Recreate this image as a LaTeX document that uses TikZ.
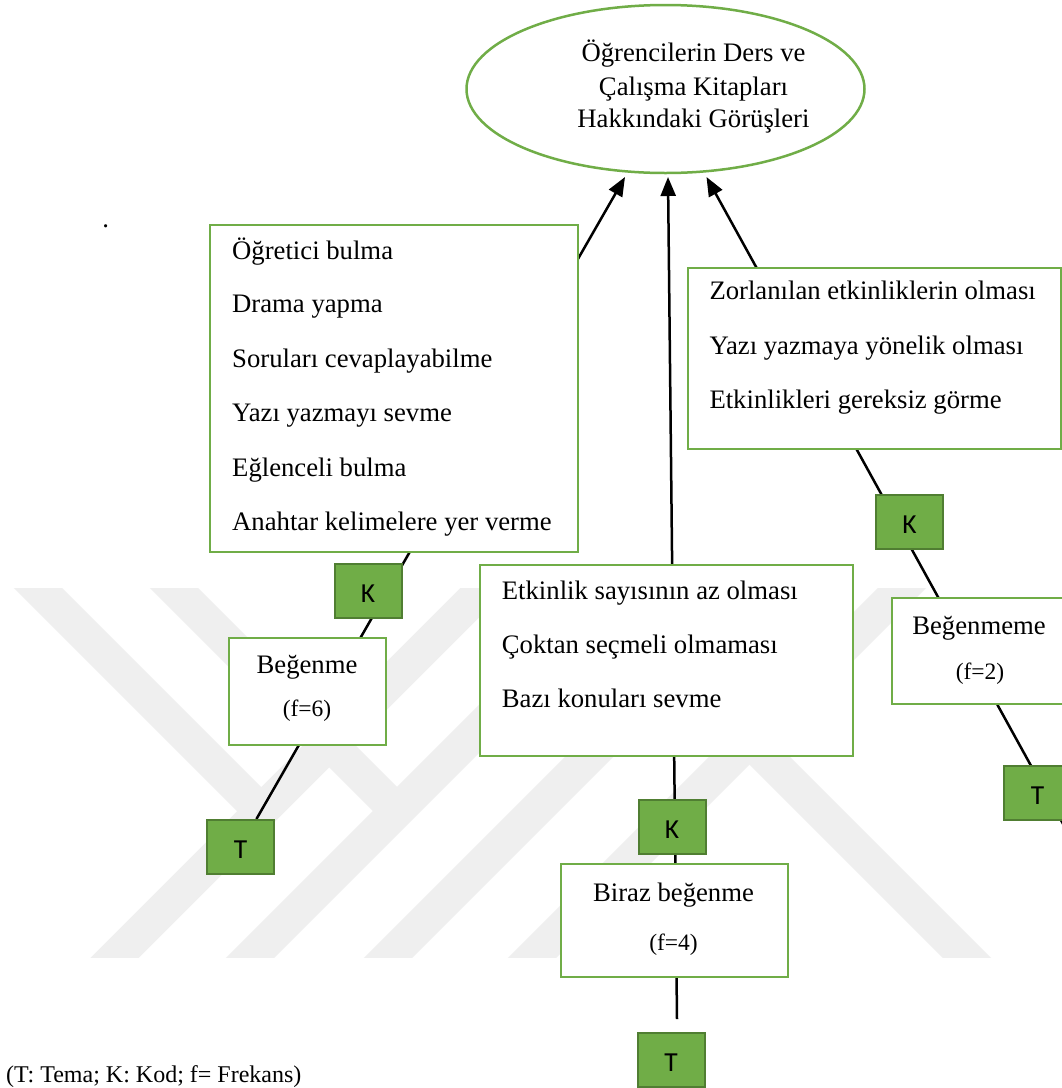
\documentclass[tikz,border=0pt]{standalone}
\usepackage{fontspec}
\setmainfont{Liberation Serif}
\newfontfamily\tagfont{Carlito}
\usetikzlibrary{arrows.meta,shapes.geometric}
\definecolor{boxgreen}{HTML}{70AD47}
\definecolor{darkgreen}{HTML}{507E32}
\definecolor{wmgray}{HTML}{EFEFEF}
\pgfdeclarelayer{bg}
\pgfsetlayers{bg,main}

\begin{document}
\begin{tikzpicture}[x=1pt,y=-1pt,
  txt/.style={font=\fontsize{26.7}{32}\selectfont, inner sep=0pt, anchor=base west},
  ctxt/.style={font=\fontsize{26.7}{32}\selectfont, inner sep=0pt, anchor=base},
  ftxt/.style={font=\fontsize{23.5}{28}\selectfont, inner sep=0pt, anchor=base},
  listbox/.style={draw=boxgreen, line width=2.2pt, fill=white, rectangle, inner sep=0pt, anchor=north west},
  tagbox/.style={draw=darkgreen, fill=boxgreen, line width=2pt, minimum width=67pt, minimum height=54pt,
    inner sep=0pt, text height=23.7pt, text depth=0pt, font=\tagfont\fontsize{27.5}{33}\selectfont},
  link/.style={line width=2.5pt, black},
  arrowlink/.style={link, -{Triangle[length=19pt,width=15pt]}},
  band/.style={wmgray, line width=34pt}
]
\path[use as bounding box, clip] (0,0) rectangle (1062,1088);

% central theme
\node[ellipse, draw=boxgreen, line width=2.5pt, fill=white, minimum width=398pt,
      minimum height=168pt, inner sep=0pt] (E) at (665.5,89) {};
\node[ctxt] (E1) at (693.5,61.7) {Öğrencilerin Ders ve};
\node[ctxt] (E2) at (693.5,95) {Çalışma Kitapları};
\node[ctxt] (E3) at (693.5,127.7) {Hakkındaki Görüşleri};
\coordinate (tipL) at (625,177);
\coordinate (tipM) at (668,177);
\coordinate (tipR) at (706.5,177);

\node[ctxt] (dot) at (105.7,227.2) {.};

% left branch
\node[listbox, minimum width=368pt, minimum height=327pt] (BoxL) at (209,224) {};
\node[txt] (L1) at (232,259.3) {Öğretici bulma};
\node[txt] (L2) at (232,312.7) {Drama yapma};
\node[txt] (L3) at (232,367.3) {Soruları cevaplayabilme};
\node[txt] (L4) at (232,421.7) {Yazı yazmayı sevme};
\node[txt] (L5) at (232,476.7) {Eğlenceli bulma};
\node[txt] (L6) at (232,530.7) {Anahtar kelimelere yer verme};
\node[tagbox] (KL) at (368,591) {K};
\node[listbox, minimum width=157pt, minimum height=107pt] (CL) at (228,637) {};
\node[ctxt] (CL1) at (307,673.3) {Beğenme};
\node[ftxt] (CL2) at (307,716.7) {(f=6)};
\node[tagbox] (TL) at (240.5,847) {T};

% middle branch
\node[listbox, minimum width=373pt, minimum height=191pt] (BoxM) at (479,564) {};
\node[txt] (M1) at (501.7,599.3) {Etkinlik sayısının az olması};
\node[txt] (M2) at (501.7,653.3) {Çoktan seçmeli olmaması};
\node[txt] (M3) at (501.7,707.7) {Bazı konuları sevme};
\node[tagbox] (KM) at (672,826.5) {K};
\node[listbox, minimum width=227pt, minimum height=113pt] (CM) at (560,863) {};
\node[ctxt] (CM1) at (673.5,901.7) {Biraz beğenme};
\node[ftxt] (CM2) at (673.5,950) {(f=4)};
\node[tagbox] (TM) at (671,1060) {T};

% right branch
\node[listbox, minimum width=373pt, minimum height=181pt] (BoxR) at (687,267) {};
\node[txt] (R1) at (709.3,299.3) {Zorlanılan etkinliklerin olması};
\node[txt] (R2) at (709.3,354) {Yazı yazmaya yönelik olması};
\node[txt] (R3) at (709.3,408.3) {Etkinlikleri gereksiz görme};
\node[tagbox] (KR) at (909.5,521.5) {K};
\node[listbox, minimum width=174pt, minimum height=106pt] (CR) at (891,597) {};
\node[ctxt] (CR1) at (979,634) {Beğenmeme};
\node[ftxt] (CR2) at (980,679) {(f=2)};
\node[tagbox] (TR) at (1037.5,793) {T};
\coordinate (rEnd) at (1094,880);

\node[font=\fontsize{24}{28}\selectfont, inner sep=0pt, anchor=base west] (legend) at (6,1082)
  {(T: Tema; K: Kod; f= Frekans)};

\begin{pgfonlayer}{bg}
  \clip (0,0) rectangle (1062,1088);
  \fill[white] (0,0) rectangle (1062,1088);
  % faint striped emblem behind the chart
  \begin{scope}
    \clip (0,588) rectangle (1062,957);
    \draw[band] (18,568) -- (261,811);
    \draw[band] (154,568) -- (397,811);
    \draw[band] (95.5,977) -- (504.5,568);
    \draw[band] (231,977) -- (640,568);
    \draw[band] (369,977) -- (778,568);
    \draw[band] (513,977) -- (922,568);
    \draw[band] (749.5,740.5) -- (986,977);
  \end{scope}
  % connectors run behind the boxes
  \draw[arrowlink] (TL) -- (tipL);
  \draw[arrowlink] ([xshift=6pt,yshift=13pt]TM.north) -- (tipM);
  \draw[arrowlink] (rEnd) -- (tipR);
\end{pgfonlayer}
\end{tikzpicture}
\end{document}
